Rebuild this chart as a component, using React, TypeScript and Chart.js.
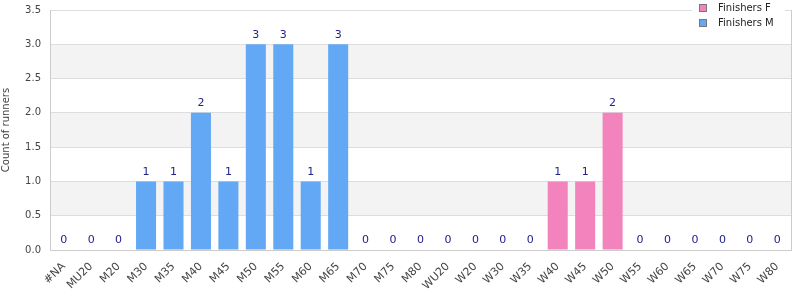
import React, { useEffect, useRef } from "react";
import { Chart, registerables } from "chart.js";

Chart.register(...registerables);

const categories = ["#NA","MU20","M20","M30","M35","M40","M45","M50","M55","M60","M65","M70","M75","M80","WU20","W20","W30","W35","W40","W45","W50","W55","W60","W65","W70","W75","W80"];
const finishersF = [0,0,0,0,0,0,0,0,0,0,0,0,0,0,0,0,0,0,1,1,2,0,0,0,0,0,0];
const finishersM = [0,0,0,1,1,2,1,3,3,1,3,0,0,0,0,0,0,0,0,0,0,0,0,0,0,0,0];
const yTicks = [0,0.5,1,1.5,2,2.5,3,3.5];
const legendLabels = ["Finishers F","Finishers M"];

const COLOR_F = "#f383bc";
const COLOR_M = "#62a8f4";
const FONT = "DejaVu Sans, sans-serif";

const decorPlugin = {
  id: "decor",
  beforeDraw(chart: any) {
    const { ctx, chartArea: a, scales } = chart;
    const y = scales.y;
    ctx.save();
    ctx.fillStyle = "#f3f3f3";
    for (let i = 0; i + 1 < yTicks.length; i++) {
      if (i % 2 === 1) {
        const top = y.getPixelForValue(yTicks[i + 1]);
        const bot = y.getPixelForValue(yTicks[i]);
        ctx.fillRect(a.left, top, a.right - a.left, bot - top);
      }
    }
    ctx.restore();
  },
  afterDatasetsDraw(chart: any) {
    const { ctx, chartArea: a, scales } = chart;
    const x = scales.x, y = scales.y;
    ctx.save();
    ctx.strokeStyle = "#cccccc";
    ctx.lineWidth = 1;
    ctx.beginPath();
    ctx.moveTo(Math.round(a.right) + 0.5, a.top);
    ctx.lineTo(Math.round(a.right) + 0.5, a.bottom);
    ctx.stroke();
    ctx.font = "11px " + FONT;
    ctx.fillStyle = "#22228a";
    ctx.textAlign = "center";
    ctx.textBaseline = "bottom";
    categories.forEach((_, i) => {
      const total = finishersF[i] + finishersM[i];
      const px = x.getPixelForValue(i);
      const py = y.getPixelForValue(total) - 4;
      ctx.fillText(String(total), px, py);
    });
    ctx.restore();
  },
  afterDraw(chart: any) {
    const { ctx } = chart;
    ctx.save();
    ctx.fillStyle = "#ffffff";
    ctx.fillRect(692, 0, 93, 32);
    const colors = [COLOR_F, COLOR_M];
    legendLabels.forEach((lab, i) => {
      const top = 4 + i * 15;
      ctx.fillStyle = colors[i];
      ctx.fillRect(699, top, 8, 8);
      ctx.strokeStyle = "#777777";
      ctx.lineWidth = 1;
      ctx.strokeRect(699.5, top + 0.5, 7, 7);
      ctx.fillStyle = "#222222";
      ctx.font = "10px " + FONT;
      ctx.textAlign = "left";
      ctx.textBaseline = "middle";
      ctx.fillText(lab, 718, top + 4.5);
    });
    ctx.restore();
  },
};

export default function App() {
  const ref = useRef<HTMLCanvasElement>(null);
  useEffect(() => {
    document.body.style.margin = "0";
    const chart = new Chart(ref.current!, {
      type: "bar",
      data: {
        labels: categories,
        datasets: [
          { label: legendLabels[0], data: finishersF, backgroundColor: COLOR_F, barPercentage: 0.73, categoryPercentage: 1 },
          { label: legendLabels[1], data: finishersM, backgroundColor: COLOR_M, barPercentage: 0.73, categoryPercentage: 1 },
        ],
      },
      options: {
        animation: false,
        responsive: false,
        maintainAspectRatio: false,
        layout: { padding: { top: 10, right: 9, left: 0, bottom: 0 } },
        plugins: { legend: { display: false }, tooltip: { enabled: false } },
        scales: {
          x: {
            stacked: true,
            grid: { display: false },
            border: { display: true, color: "#cccccc" },
            ticks: {
              autoSkip: false,
              maxRotation: 45,
              minRotation: 45,
              color: "#444444",
              font: { family: FONT, size: 11 },
              padding: 2,
            },
            afterFit(s: any) { s.height = 50; s.paddingTop = 0; },
          },
          y: {
            stacked: true,
            min: 0,
            max: 3.5,
            afterBuildTicks(s: any) { s.ticks = yTicks.map((v) => ({ value: v })); },
            grid: { color: "#dddddd", drawTicks: false },
            border: { display: true, color: "#cccccc" },
            ticks: {
              color: "#444444",
              font: { family: FONT, size: 10 },
              padding: 9,
              callback: (v: any) => Number(v).toFixed(1),
            },
            title: {
              display: true,
              text: "Count of runners",
              color: "#444444",
              font: { family: FONT, size: 10 },
              padding: 0,
            },
            afterFit(s: any) { s.width = 50; s.paddingTop = 0; s.paddingBottom = 0; },
          },
        },
      },
      plugins: [decorPlugin],
    });
    return () => chart.destroy();
  }, []);
  return (
    <div style={{ width: 800, height: 300 }}>
      <canvas ref={ref} width={800} height={300} style={{ display: "block" }} />
    </div>
  );
}
